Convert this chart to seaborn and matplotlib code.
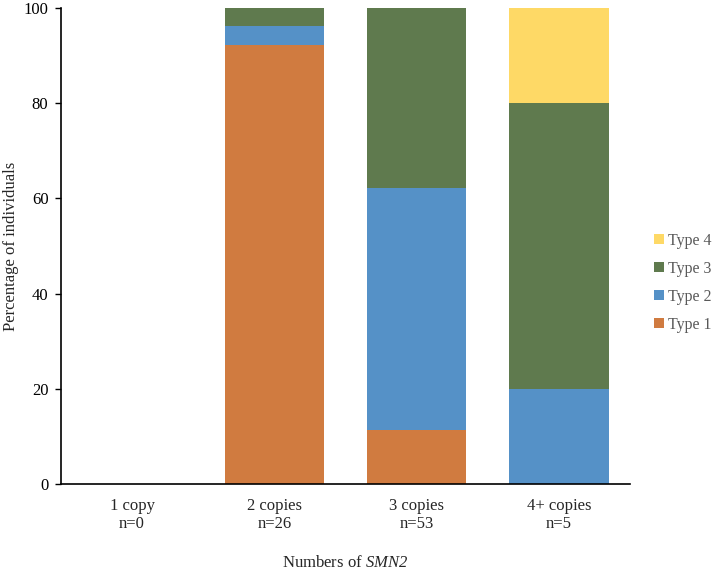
import numpy as np
import pandas as pd
import seaborn as sns
import matplotlib
matplotlib.use("Agg")
import matplotlib.pyplot as plt
from matplotlib.patches import Patch

# percentages of individuals per SMN2 copy number
categories = ["1 copy\nn=0", "2 copies\nn=26", "3 copies\nn=53", "4+ copies\nn=5"]
type1 = [0, 92.3, 11.3, 0]
type2 = [0, 3.85, 50.9, 20]
type3 = [0, 3.85, 37.7, 60]
type4 = [0, 0, 0, 20]
types = ["Type 1", "Type 2", "Type 3", "Type 4"]
colors = ["#D07B40", "#5591C7", "#5F7A4E", "#FED966"]

sns.set_style("ticks")
plt.rcParams['font.family'] = ['Liberation Serif', 'DejaVu Serif']
plt.rcParams['mathtext.fontset'] = 'custom'
plt.rcParams['mathtext.it'] = 'Liberation Serif:italic'
plt.rcParams['mathtext.rm'] = 'Liberation Serif:italic'

df = pd.DataFrame({"cat": categories, "Type 1": type1, "Type 2": type2,
                   "Type 3": type3, "Type 4": type4})
cum = df[types].cumsum(axis=1)

fig = plt.figure(figsize=(7.14, 5.70), dpi=100)
ax = fig.add_axes([0.0854, 0.151, 0.797, 0.835])

# draw cumulative totals from the top down so each layer shows as a stack
for t, c in zip(types[::-1], colors[::-1]):
    sns.barplot(x=df["cat"], y=cum[t], color=c, width=0.7, saturation=1,
                ax=ax, linewidth=0)

ax.set_ylim(0, 100)
ax.set_yticks(np.arange(0, 101, 20))
ax.set_xlim(-0.5, 3.5)
ax.set_ylabel("Percentage of individuals", fontsize=12)
ax.yaxis.set_label_coords(-0.088, 0.5)
ax.yaxis.label.set_va('center')
ax.set_xlabel("Numbers of $SMN2$", fontsize=12)
ax.xaxis.set_label_coords(0.5, -0.166)
ax.xaxis.label.set_va('center')
ax.tick_params(axis='y', labelsize=12, length=4, width=1, colors='black', pad=5)
ax.tick_params(axis='x', labelsize=12, length=0, pad=10)
for lbl in ax.get_xticklabels():
    lbl.set_linespacing(1.2)
sns.despine(ax=ax)
for s in ["left", "bottom"]:
    ax.spines[s].set_color("black")
    ax.spines[s].set_linewidth(1.2)

handles = [Patch(facecolor=c, edgecolor='none', label=t)
           for t, c in zip(types[::-1], colors[::-1])]
fig.legend(handles=handles, loc='center left', bbox_to_anchor=(0.896, 0.504),
           frameon=False, fontsize=11.5, handlelength=0.6, handleheight=0.6,
           handletextpad=0.3, labelspacing=0.75, labelcolor='#595959')

fig.savefig("out.png", dpi=100)
